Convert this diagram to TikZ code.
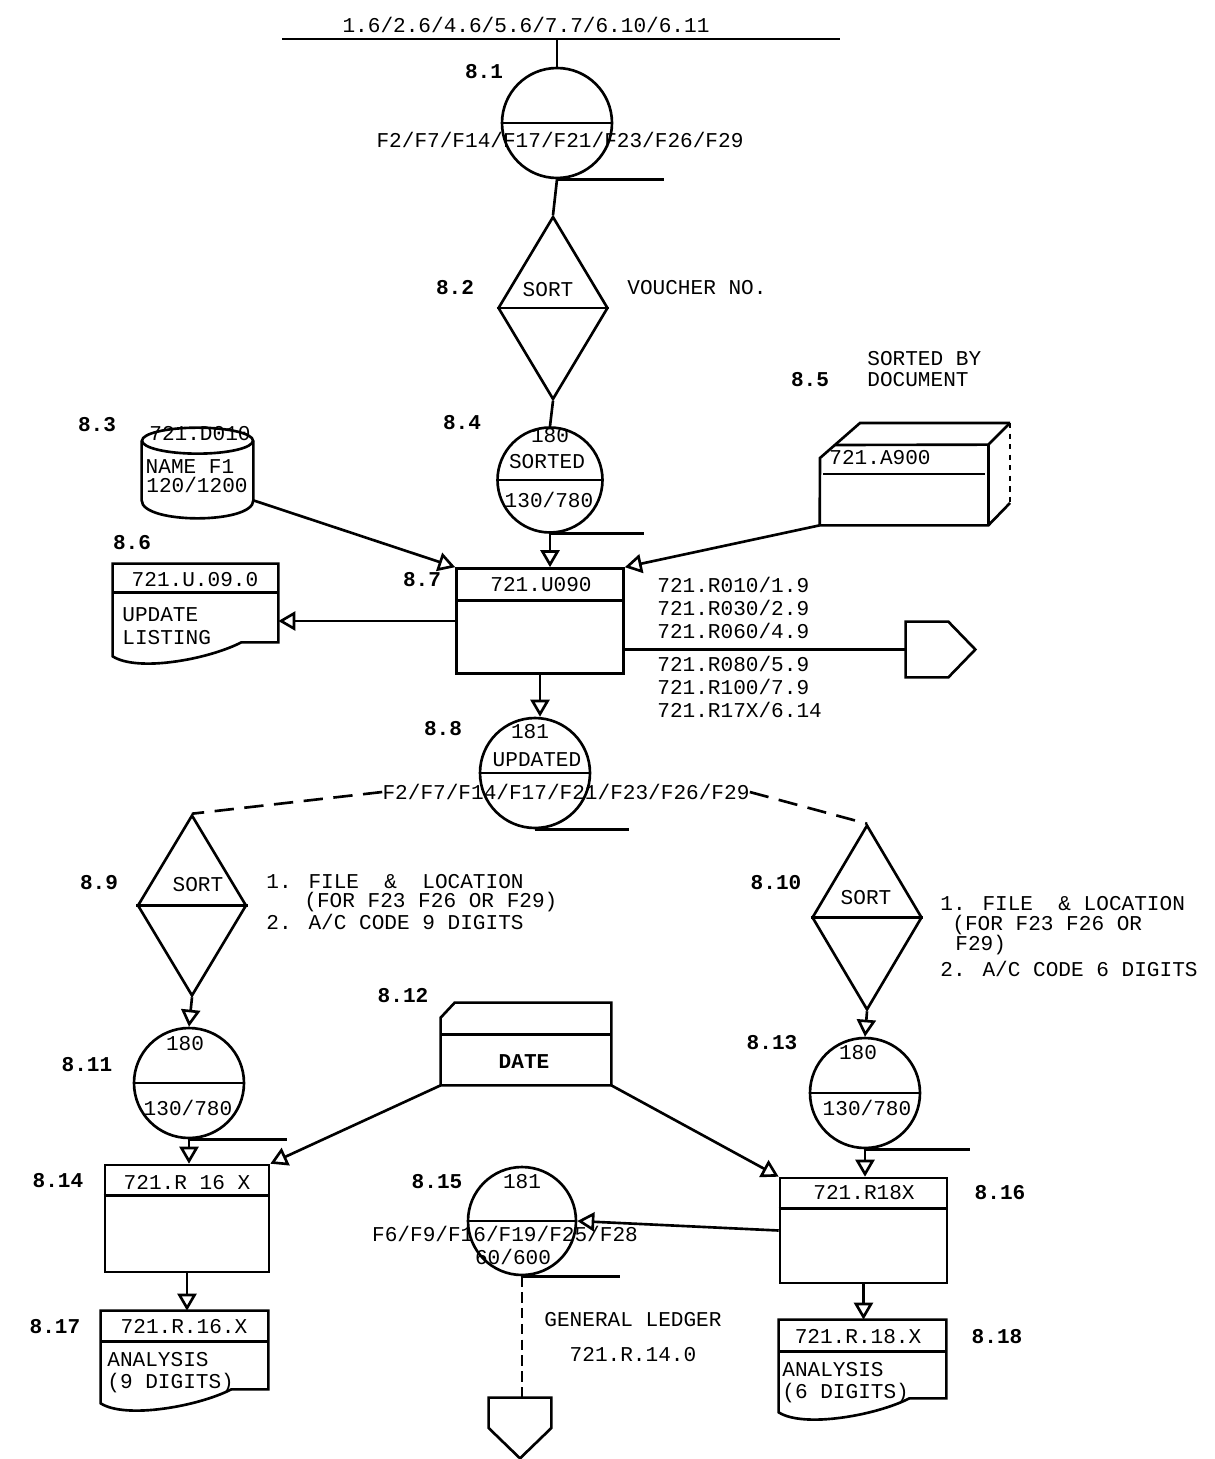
\documentclass[tikz,border=0pt]{standalone}
\usepackage{fontspec}
\setmainfont{Liberation Mono}
\usetikzlibrary{arrows.meta,shapes.geometric}

\tikzset{
  line/.style={line width=1.5pt},
  flow/.style={line width=1.5pt,-{Triangle[open,length=0.34cm,width=0.38cm]}},
  gap/.style={line width=1.5pt,dash pattern=on 11pt off 6pt},
  store/.style={circle,draw,line width=1.5pt,minimum size=2.2cm,inner sep=0pt},
  sortbox/.style={diamond,draw,line width=1.5pt,minimum width=2.2cm,minimum height=3.66cm,inner sep=0pt},
  runbox/.style={rectangle,draw,line width=1.5pt,minimum width=3.34cm,minimum height=2.1cm,inner sep=0pt},
  frame/.style={rectangle,inner sep=0pt},
  tag/.style={font=\fontsize{12}{13}\selectfont\bfseries},
  txt/.style={inner sep=0pt},
}

\begin{document}
\begin{tikzpicture}[x=0.02cm,y=-0.02cm,font=\fontsize{12}{13}\selectfont]
  % bounding box
  \useasboundingbox (0,0) rectangle (1214,1459);

  % Input bus
  \node[txt] (srcs) at (526,25) {1.6/2.6/4.6/5.6/7.7/6.10/6.11};
  \coordinate (busL) at (282,39);
  \coordinate (busR) at (840,39);
  \draw[line] (busL) -- (busR);

  % 8.1 input file
  \node[store] (f81) at (557,123) {};
  \draw[line] (f81.west) -- (f81.east);
  \draw[line] (f81.south) -- ++(107,0);
  \draw[line] (f81.north |- busL) -- (f81.north);
  \node[tag] (l81) at (484,72) {8.1};
  \node[txt] (t81) at (560,140) {F2/F7/F14/F17/F21/F23/F26/F29};

  % 8.2 sort
  \node[sortbox] (s82) at (553,308) {};
  \draw[line] (s82.west) -- (s82.east);
  \draw[line] (f81.south) -- (s82.north);
  \node[txt] (t82) at (548,290) {SORT};
  \node[tag] (l82) at (455,288) {8.2};
  \node[txt,anchor=west] (k82) at (627,288) {VOUCHER NO.};

  % 8.4 sorted file
  \node[store,minimum size=2.1cm] (f84) at (550,480) {};
  \draw[line] (f84.west) -- (f84.east);
  \draw[line] (f84.south) -- ++(94,0);
  \draw[line] (s82.south) -- (f84.north);
  \node[tag] (l84) at (462,423) {8.4};
  \node[txt] (n84) at (550,436) {180};
  \node[txt] (h84) at (547,462) {SORTED};
  \node[txt] (v84) at (549,500) {130/780};

  % 8.7 update run
  \node[runbox] (u090) at (540,621) {};
  \draw[line] ([yshift=-0.66cm]u090.north west) -- ([yshift=-0.66cm]u090.north east);
  \node[txt] (t87) at (541,585) {721.U090};
  \node[tag] (l87) at (422,580) {8.7};
  \draw[flow] (f84.south) -- (f84.south |- u090.north);

  % 8.3 name file (disk)
  \node[frame,minimum width=2.22cm,minimum height=1.18cm] (d010) at (197.5,470.5) {};
  \draw[line] (d010.north west) -- (d010.south west) .. controls +(0,24) and +(0,24) .. (d010.south east) -- (d010.north east);
  \draw[line] (d010.north) ellipse [x radius=1.11cm,y radius=0.26cm];
  \node[txt] (t83a) at (200,434) {721.D010};
  \node[txt] (t83b) at (190,467) {NAME F1};
  \node[txt] (t83c) at (197,485) {120/1200};
  \node[tag] (l83) at (97,425) {8.3};
  \draw[flow] (d010.south east) -- (u090.north west);

  % 8.5 document file
  \node[frame,minimum width=3.36cm,minimum height=1.6cm] (a900) at (904,485) {};
  \draw[line] (a900.south west) -- (820,458) -- (860,423) -- (1010,423);
  \draw[line,dashed] (1010,423) -- (1010,503);
  \draw[line] (1010,503) -- (a900.south east) -- (a900.south west);
  \draw[line] (835,445) -- (a900.north east) -- (1010,423);
  \draw[line] (a900.north east) -- (a900.south east);
  \draw[line] (823,474) -- (985,474);
  \node[txt] (t85) at (880,458) {721.A900};
  \node[tag] (l85) at (810,380) {8.5};
  \node[txt,anchor=west] (k85a) at (867,359) {SORTED BY};
  \node[txt,anchor=west] (k85b) at (867,380) {DOCUMENT};
  \draw[flow] (a900.south west) -- (u090.north east);

  % 8.6 update listing
  \node[frame,minimum width=3.3cm,minimum height=1.56cm] (r09) at (195.5,603) {};
  \draw[line] (r09.north east) -- (r09.south east) -- ++(-37,0) .. controls +(-33,17) and +(25,16) .. ([yshift=-0.28cm]r09.south west) -- (r09.north west) -- cycle;
  \draw[line] ([yshift=-0.58cm]r09.north west) -- ([yshift=-0.58cm]r09.north east);
  \node[txt] (t86) at (195,580) {721.U.09.0};
  \node[txt,anchor=west] (k86a) at (122,615) {UPDATE};
  \node[txt,anchor=west] (k86b) at (122,638) {LISTING};
  \node[tag] (l86) at (132,543) {8.6};
  \draw[flow] (u090.west) -- (u090.west -| r09.east);

  % Reports (off-page)
  \node[frame,minimum width=1.38cm,minimum height=1.1cm] (opc) at (940.5,649.5) {};
  \draw[line] (opc.north west) -- ([xshift=-0.54cm]opc.north east) -- (opc.east) -- ([xshift=-0.54cm]opc.south east) -- (opc.south west) -- cycle;
  \draw[line] (opc.west -| u090.east) -- (opc.west);
  \node[txt,anchor=west,align=left] (rpa) at (657,608) {721.R010/1.9\\721.R030/2.9\\721.R060/4.9};
  \node[txt,anchor=west,align=left] (rpb) at (657,687) {721.R080/5.9\\721.R100/7.9\\721.R17X/6.14};

  % 8.8 updated file
  \node[store] (f88) at (535,773) {};
  \draw[line] (f88.west) -- (f88.east);
  \draw[line] (f88.south) -- ++(94,0);
  \draw[flow] (u090.south) -- (u090.south |- f88.north);
  \node[tag] (l88) at (443,729) {8.8};
  \node[txt] (n88) at (530,732) {181};
  \node[txt] (h88) at (537,760) {UPDATED};
  \node[txt] (t88) at (566,792) {F2/F7/F14/F17/F21/F23/F26/F29};

  % 8.9 sort
  \node[sortbox,minimum width=2.18cm,minimum height=3.62cm] (s89) at (192,905.5) {};
  \draw[line] (s89.west) -- (s89.east);
  \draw[gap] (t88.west) -- (s89.north);
  \node[txt] (t89) at (198,885) {SORT};
  \node[tag] (l89) at (99,883) {8.9};
  \node[txt,anchor=west] (k89a) at (266,882) {1. FILE\ \ \&\ \ LOCATION};
  \node[txt,anchor=west] (k89b) at (304,902) {(FOR F23 F26 OR F29)};
  \node[txt,anchor=west] (k89c) at (266,922) {2. A/C CODE 9 DIGITS};

  % 8.10 sort
  \node[sortbox,minimum height=3.7cm] (s810) at (867,917.5) {};
  \draw[line] (s810.west) -- (s810.east);
  \draw[gap] (t88.east) -- (s810.north);
  \node[txt] (t810) at (866,898) {SORT};
  \node[tag] (l810) at (776,883) {8.10};
  \node[txt,anchor=west] (k810a) at (940,904) {1. FILE\ \ \& LOCATION};
  \node[txt,anchor=west] (k810b) at (952,925) {(FOR F23 F26 OR};
  \node[txt,anchor=west] (k810c) at (955,945) {F29)};
  \node[txt,anchor=west] (k810d) at (940,969) {2. A/C CODE 6 DIGITS};

  % 8.11 sorted file
  \node[store] (f811) at (189,1083) {};
  \draw[line] (f811.west) -- (f811.east);
  \draw[line] (f811.south) -- ++(98,0);
  \draw[flow] (s89.south) -- (f811.north);
  \node[tag] (l811) at (87,1065) {8.11};
  \node[txt] (n811) at (185,1044) {180};
  \node[txt] (v811) at (188,1108) {130/780};

  % 8.12 date card
  \node[frame,minimum width=3.4cm,minimum height=1.64cm] (dte) at (526,1044) {};
  \draw[line] ([yshift=-0.3cm]dte.north west) -- ([xshift=0.28cm]dte.north west) -- (dte.north east) -- (dte.south east) -- (dte.south west) -- cycle;
  \draw[line] ([yshift=-0.64cm]dte.north west) -- ([yshift=-0.64cm]dte.north east);
  \node[tag] (t812) at (524,1062) {DATE};
  \node[tag] (l812) at (403,996) {8.12};

  % 8.13 sorted file
  \node[store] (f813) at (865,1093) {};
  \draw[line] (f813.west) -- (f813.east);
  \draw[line] (f813.south) -- ++(105,0);
  \draw[flow] (s810.south) -- (f813.north);
  \node[tag] (l813) at (772,1043) {8.13};
  \node[txt] (n813) at (858,1053) {180};
  \node[txt] (v813) at (867,1108) {130/780};

  % 8.14 analysis run
  \node[runbox,minimum width=3.28cm,minimum height=2.14cm] (r16) at (187,1218.5) {};
  \draw[line] ([yshift=-0.64cm]r16.north west) -- ([yshift=-0.64cm]r16.north east);
  \node[txt] (t814) at (187,1183) {721.R 16 X};
  \node[tag] (l814) at (58,1181) {8.14};
  \draw[flow] (f811.south) -- (f811.south |- r16.north);
  \draw[flow] (dte.south west) -- (r16.north east);

  % 8.16 analysis run
  \node[runbox] (r18) at (863.5,1230.5) {};
  \draw[line] ([yshift=-0.64cm]r18.north west) -- ([yshift=-0.64cm]r18.north east);
  \node[txt] (t816) at (864,1193) {721.R18X};
  \node[tag] (l816) at (1000,1193) {8.16};
  \draw[flow] (f813.south) -- (f813.south |- r18.north);
  \draw[flow] (dte.south east) -- (r18.north west);

  % 8.15 ledger file
  \node[store,minimum size=2.16cm] (f815) at (522,1221) {};
  \draw[line] (f815.west) -- (f815.east);
  \draw[line] (f815.south) -- ++(98,0);
  \draw[flow] (r18.west) -- (f815.east);
  \node[tag] (l815) at (437,1182) {8.15};
  \node[txt] (n815) at (522,1182) {181};
  \node[txt] (t815) at (505,1234) {F6/F9/F16/F19/F25/F28};
  \node[txt] (v815) at (513,1257) {60/600};

  % General ledger (off-page)
  \node[frame,minimum width=1.24cm,minimum height=1.2cm] (opc2) at (520,1428) {};
  \draw[line] (opc2.north west) -- (opc2.north east) -- (opc2.east) -- (opc2.south) -- (opc2.west) -- cycle;
  \draw[line,dash pattern=on 6pt off 3pt] (f815.south) -- (f815.south |- opc2.north);
  \node[txt] (k815a) at (633,1320) {GENERAL LEDGER};
  \node[txt] (k815b) at (633,1355) {721.R.14.0};

  % 8.17 analysis listing
  \node[frame,minimum width=3.34cm,minimum height=1.56cm] (a16) at (184.5,1350) {};
  \draw[line] (a16.north east) -- (a16.south east) -- ++(-37,0) .. controls +(-33,17) and +(25,16) .. ([yshift=-0.28cm]a16.south west) -- (a16.north west) -- cycle;
  \draw[line] ([yshift=-0.62cm]a16.north west) -- ([yshift=-0.62cm]a16.north east);
  \node[txt] (t817) at (184,1327) {721.R.16.X};
  \node[txt,anchor=west] (k817a) at (107,1360) {ANALYSIS};
  \node[txt,anchor=west] (k817b) at (107,1383) {(9 DIGITS)};
  \node[tag] (l817) at (55,1327) {8.17};
  \draw[flow] (r16.south) -- (r16.south |- a16.north);

  % 8.18 analysis listing
  \node[frame,minimum width=3.34cm,minimum height=1.56cm] (a18) at (862.5,1359) {};
  \draw[line] (a18.north east) -- (a18.south east) -- ++(-37,0) .. controls +(-33,17) and +(25,16) .. ([yshift=-0.28cm]a18.south west) -- (a18.north west) -- cycle;
  \draw[line] ([yshift=-0.64cm]a18.north west) -- ([yshift=-0.64cm]a18.north east);
  \node[txt] (t818) at (858,1337) {721.R.18.X};
  \node[txt,anchor=west] (k818a) at (782,1370) {ANALYSIS};
  \node[txt,anchor=west] (k818b) at (782,1393) {(6 DIGITS)};
  \node[tag] (l818) at (997,1337) {8.18};
  \draw[flow] (r18.south) -- (r18.south |- a18.north);
\end{tikzpicture}
\end{document}
